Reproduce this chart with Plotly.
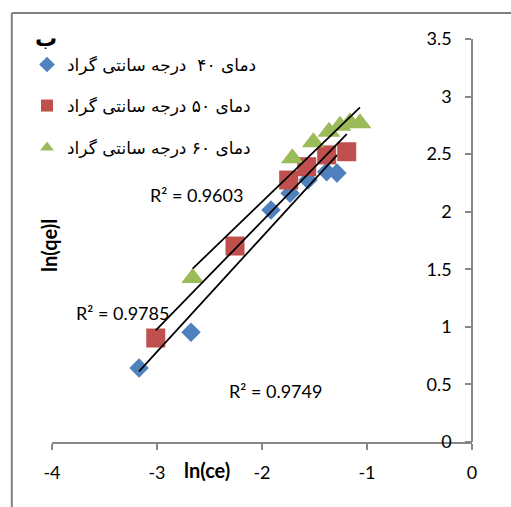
import numpy as np
import plotly.graph_objects as go

# ln(ce) / ln(qe) for each temperature series
x_40 = [-3.171, -2.676, -1.914, -1.733, -1.562, -1.384, -1.286]
y_40 = [0.643, 0.953, 2.015, 2.160, 2.275, 2.348, 2.336]

x_50 = [-3.012, -2.257, -1.746, -1.574, -1.384, -1.193]
y_50 = [0.903, 1.702, 2.275, 2.391, 2.493, 2.521]

x_60 = [-2.660, -1.711, -1.511, -1.362, -1.257, -1.162, -1.067]
y_60 = [1.424, 2.464, 2.603, 2.695, 2.747, 2.777, 2.768]

names = ["دمای ۴۰  درجه سانتی گراد", "دمای ۵۰ درجه سانتی گراد", "دمای ۶۰ درجه سانتی گراد"]
r2_labels = ["R² = 0.9749", "R² = 0.9785", "R² = 0.9603"]
x_ticks = [-4, -3, -2, -1, 0]
y_ticks = [0, 0.5, 1, 1.5, 2, 2.5, 3, 3.5]

colors = ["#4F81BD", "#C0504D", "#9BBB59"]
symbols = ["diamond", "square", "triangle-up"]
sizes = [15, 19, 20]
legend_ids = ["legend", "legend2", "legend3"]

W, H = 511, 507
L, R, T, B = 52, 39, 39, 65
PW, PH = W - L - R, H - T - B


def px_x(p):
    return (p - L) / PW


def px_y(p):
    return (H - B - p) / PH


fig = go.Figure()

series = [(x_40, y_40), (x_50, y_50), (x_60, y_60)]
for i, (xs, ys) in enumerate(series):
    fig.add_trace(go.Scatter(
        x=xs, y=ys, mode="markers", name=names[i],
        marker=dict(symbol=symbols[i], size=sizes[i], color=colors[i],
                    line=dict(width=0)),
        legend=legend_ids[i], showlegend=True,
    ))

# least-squares trendlines over each series' x-span
for i, (xs, ys) in enumerate(series):
    k, b = np.polyfit(xs, ys, 1)
    xl = np.array([min(xs), max(xs)])
    fig.add_trace(go.Scatter(
        x=xl, y=k * xl + b, mode="lines",
        line=dict(color="black", width=1.75),
        showlegend=False, hoverinfo="skip",
    ))

legend_y = [65, 106, 148]
legend_common = dict(
    x=px_x(27), xanchor="left", yanchor="middle",
    font=dict(family="DejaVu Sans", size=17, color="black"),
    bgcolor="rgba(0,0,0,0)", itemsizing="constant",
)
layout_legends = {}
for lid, ly in zip(legend_ids, legend_y):
    layout_legends[lid] = dict(legend_common, y=px_y(ly))

tick_font = dict(family="Lato", size=18, color="black")
axis_color = "#868686"

fig.update_layout(
    width=W, height=H,
    margin=dict(l=L, r=R, t=T, b=B),
    paper_bgcolor="white", plot_bgcolor="white",
    showlegend=True,
    **layout_legends,
    xaxis=dict(
        range=[-4, 0], tickvals=x_ticks, ticktext=[str(v) for v in x_ticks],
        showgrid=False, zeroline=False, showline=True,
        linecolor=axis_color, linewidth=1.5,
        ticks="outside", ticklen=6, tickcolor=axis_color, tickwidth=1.5,
        tickfont=tick_font, ticklabelstandoff=8,
    ),
    # vertical axis crosses at x = 0, the right edge of the plot area
    yaxis=dict(
        range=[0, 3.5], tickvals=y_ticks,
        ticktext=["0", "0.5", "1", "1.5", "2", "2.5", "3", "3.5"],
        anchor="free", position=1, side="left",
        showgrid=False, zeroline=False, showline=True,
        linecolor=axis_color, linewidth=1.5,
        ticks="outside", ticklen=6, tickcolor=axis_color, tickwidth=1.5,
        tickfont=tick_font, ticklabelstandoff=10,
    ),
)

# R² labels of the trendlines
r2_pos = [(-1.867, 0.443), (-3.333, 1.12), (-2.624, 2.145)]
for txt, (ax, ay) in zip(r2_labels, r2_pos):
    fig.add_annotation(x=ax, y=ay, xref="x", yref="y", text=txt,
                       showarrow=False, font=dict(family="Lato", size=18, color="black"))

# axis titles and chart label
fig.add_annotation(x=px_x(207), y=px_y(484), xref="paper", yref="paper",
                   text="<b>ln(ce)</b>", showarrow=False,
                   font=dict(family="Lato", size=20, color="black"))
fig.add_annotation(x=px_x(35), y=px_y(246), xref="paper", yref="paper",
                   text="<b>ln(qe)l</b>", showarrow=False, textangle=-90,
                   font=dict(family="Lato", size=20, color="black"))
fig.add_annotation(x=px_x(33), y=px_y(24), xref="paper", yref="paper",
                   text="<b>ب</b>", showarrow=False,
                   font=dict(family="DejaVu Sans", size=22, color="black"))

# chart-area frame (top and left edges)
frame_line = dict(color="#808080", width=2)
fig.add_shape(type="line", xref="paper", yref="paper",
              x0=px_x(11.8), x1=px_x(560), y0=px_y(13), y1=px_y(13),
              line=frame_line)
fig.add_shape(type="line", xref="paper", yref="paper",
              x0=px_x(11.8), x1=px_x(11.8), y0=px_y(560), y1=px_y(13),
              line=frame_line)

fig.write_html("out.html", config={"displayModeBar": False})
